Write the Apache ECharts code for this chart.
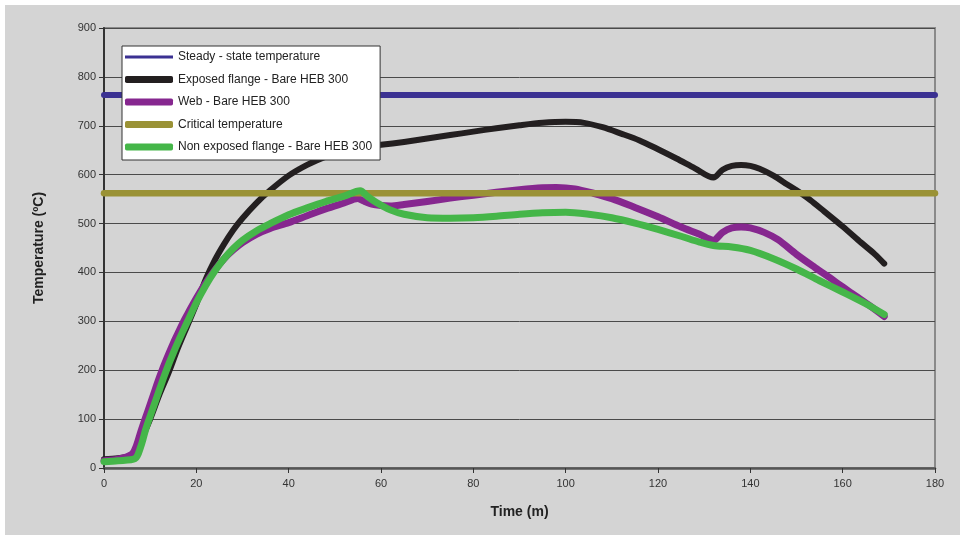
<!DOCTYPE html>
<html>
<head>
<meta charset="utf-8">
<script src="https://cdn.jsdelivr.net/npm/echarts@6/dist/echarts.min.js"></script>
<style>
  html, body { margin: 0; padding: 0; background: #ffffff; }
  #chart { width: 965px; height: 540px; }
</style>
</head>
<body>
<div id="chart"></div>
<script>
// Temperature evolution of a bare HEB 300 section (time in minutes, temperature in ºC)
const seriesNames = [
  'Steady - state temperature',
  'Exposed flange - Bare HEB 300',
  'Web - Bare HEB 300',
  'Critical temperature',
  'Non exposed flange - Bare HEB 300'
];

const steadyStateTemp = 763;
const criticalTemp = 562;
const constantSpan = [0, 180];

const timeExposed = [0, 3, 6, 7, 8, 10, 12, 14, 16, 18, 20, 22, 24, 26, 28, 30, 33, 36, 40, 44, 48, 52, 56, 60, 65, 70, 75, 80, 85, 90, 95, 100, 104, 108, 112, 116, 120, 124, 128, 132, 134, 136, 138, 140, 142, 145, 148, 150, 153, 156, 160, 164, 167, 169];
const tempExposed = [18, 20, 25, 30, 55, 100, 150, 195, 245, 290, 335, 385, 425, 458, 487, 511, 542, 568, 598, 620, 637, 649, 656, 661, 667, 674, 681, 688, 695, 701, 706, 708, 706, 697, 684, 670, 652, 633, 613, 594, 610, 618, 620, 618, 612, 598, 580, 568, 548, 525, 494, 461, 437, 418];

const timeWeb = [0, 3, 6, 7, 8, 9, 10, 11, 12, 13, 14, 15, 16, 17, 18, 20, 22, 24, 26, 28, 30, 33, 36, 40, 44, 48, 52, 55, 56, 58, 60, 62, 65, 70, 75, 80, 85, 90, 95, 98, 102, 106, 110, 115, 120, 125, 129, 132, 134, 136, 138, 140, 143, 146, 150, 154, 158, 162, 166, 169];
const tempWeb = [15, 18, 28, 45, 75, 103, 130, 158, 185, 210, 233, 255, 275, 295, 313, 347, 378, 405, 428, 446, 461, 478, 490, 502, 516, 530, 542, 551, 547, 540, 537, 536, 539, 545, 552, 558, 564, 569, 573, 574, 571, 562, 551, 533, 514, 493, 478, 466, 482, 491, 493, 491, 482, 467, 437, 410, 384, 357, 331, 310];

const timeNonExposed = [0, 3, 6.7, 8, 9, 10, 11, 12, 13, 14, 15, 16, 17, 18, 20, 22, 24, 26, 28, 30, 33, 36, 40, 44, 48, 52, 55.5, 57, 59, 62, 65, 70, 75, 80, 85, 90, 95, 100, 105, 110, 115, 120, 125, 129, 132, 136, 140, 145, 150, 155, 160, 165, 169];
const tempNonExposed = [13, 15, 19, 45, 78, 106, 133, 160, 187, 212, 235, 257, 278, 298, 338, 373, 403, 428, 449, 466, 485, 500, 518, 532, 545, 556, 567, 556, 543, 528, 519, 512, 511, 512, 515, 519, 522, 523, 519, 512, 501, 488, 474, 462, 455, 452, 445, 428, 407, 383, 360, 336, 314];

const xTicks = { min: 0, max: 180, interval: 20 };
const yTicks = { min: 0, max: 900, interval: 100 };

const pairs = (xs, ys) => xs.map((x, i) => [x, ys[i]]);
const flat = (v) => constantSpan.map((x) => [x, v]);

const FONT = '"Liberation Sans", Arial, sans-serif';
const BG = '#d4d4d4';

// Legend keys: thin bar for the steady-state line, thick rounded bars for the rest
const THIN_KEY = 'path://M0,0L48,0L48,3L0,3Z';
const legendItems = seriesNames.map((name, i) => ({
  name: name,
  icon: i === 0 ? THIN_KEY : 'roundRect'
}));

const chart = echarts.init(document.getElementById('chart'), null, { renderer: 'canvas' });

function lineSeries(name, data, color, width, extra) {
  return Object.assign({
    name: name,
    type: 'line',
    data: data,
    symbol: 'none',
    smooth: 0.3,
    lineStyle: { color: color, width: width, cap: 'round', join: 'round' },
    itemStyle: { color: color },
    emphasis: { disabled: true },
    animation: false
  }, extra || {});
}

chart.setOption({
  backgroundColor: '#ffffff',
  animation: false,
  graphic: [{
    type: 'rect',
    z: -100,
    silent: true,
    shape: { x: 5, y: 5, width: 955, height: 530 },
    style: { fill: BG }
  }],
  grid: {
    left: 104, right: 30, top: 28, bottom: 72,
    show: true,
    backgroundColor: BG,
    borderColor: '#8a8a8a',
    borderWidth: 2
  },
  legend: {
    orient: 'vertical',
    left: 122,
    top: 46,
    padding: [5, 8, 7, 3],
    itemWidth: 48,
    itemHeight: 7,
    itemGap: 10.5,
    symbolKeepAspect: true,
    backgroundColor: '#ffffff',
    borderColor: '#333333',
    borderWidth: 1,
    selectedMode: false,
    textStyle: { fontFamily: FONT, fontSize: 12, color: '#222222' },
    data: legendItems
  },
  xAxis: {
    type: 'value',
    min: xTicks.min, max: xTicks.max, interval: xTicks.interval,
    name: 'Time (m)',
    nameLocation: 'middle',
    nameGap: 37,
    nameTextStyle: { fontFamily: FONT, fontSize: 14, fontWeight: 'bold', color: '#222222' },
    axisLine: { show: true, onZero: false, lineStyle: { color: '#555555', width: 2.5 } },
    axisTick: { show: true, length: 5, lineStyle: { color: '#333333', width: 1 } },
    axisLabel: { fontFamily: FONT, fontSize: 11, color: '#333333', margin: 10 },
    splitLine: { show: false }
  },
  yAxis: {
    type: 'value',
    min: yTicks.min, max: yTicks.max, interval: yTicks.interval,
    name: 'Temperature (ºC)',
    nameLocation: 'middle',
    nameGap: 58,
    nameRotate: 90,
    nameTextStyle: { fontFamily: FONT, fontSize: 14, fontWeight: 'bold', color: '#222222' },
    axisLine: { show: true, lineStyle: { color: '#333333', width: 2 } },
    axisTick: { show: true, length: 5, lineStyle: { color: '#333333', width: 1 } },
    axisLabel: { fontFamily: FONT, fontSize: 11, color: '#333333', margin: 8 },
    splitLine: { show: true, lineStyle: { color: '#4a4a4a', width: 1 } }
  },
  series: [
    lineSeries(seriesNames[0], flat(steadyStateTemp), '#3b3192', 6, { smooth: false, clip: false }),
    lineSeries(seriesNames[1], pairs(timeExposed, tempExposed), '#231f20', 6),
    lineSeries(seriesNames[2], pairs(timeWeb, tempWeb), '#86278f', 7),
    lineSeries(seriesNames[3], flat(criticalTemp), '#9a9236', 6.5, { smooth: false, clip: false }),
    lineSeries(seriesNames[4], pairs(timeNonExposed, tempNonExposed), '#45b649', 7)
  ]
});
</script>
</body>
</html>
